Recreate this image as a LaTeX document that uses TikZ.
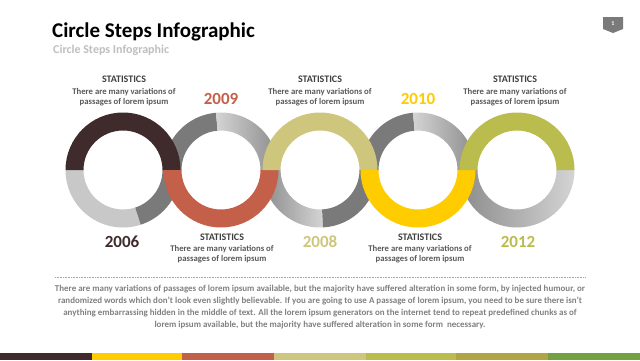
\documentclass[tikz,border=0pt]{standalone}
\usepackage{fontspec}
\setmainfont{Carlito}
\definecolor{cbrown}{HTML}{3F2B2B}
\definecolor{cred}{HTML}{C4604A}
\definecolor{ckhaki}{HTML}{CFC67E}
\definecolor{cyellow}{HTML}{FFCC00}
\definecolor{colive}{HTML}{BBBC4E}
\definecolor{cmustard}{HTML}{B0A444}
\definecolor{cgreen}{HTML}{72A042}
\definecolor{dgray}{HTML}{7A7A7A}
\definecolor{lgray}{HTML}{C8C8C8}
\definecolor{gradlight}{HTML}{D4D4D4}
\definecolor{graddark}{HTML}{8C8C8C}
\definecolor{headgray}{HTML}{404040}
\definecolor{linegray}{HTML}{595959}
\definecolor{paragray}{HTML}{808080}
\definecolor{subgray}{HTML}{BFBFBF}
\newcommand\ringseg[4]{%
  \path[#4] ([shift={(#2:57.5)}]#1,190) arc[start angle=#2,end angle=#3,radius=57.5]
    -- ([shift={(#3:39.5)}]#1,190) arc[start angle=#3,end angle=#2,radius=39.5] -- cycle;}
\tikzset{
  titletext/.style={anchor=base west,inner sep=0pt,font=\fontsize{21}{24}\selectfont\bfseries,text=black},
  subtext/.style={anchor=base west,inner sep=0pt,font=\fontsize{12}{14}\selectfont\bfseries,text=subgray},
  yeartext/.style={anchor=base,inner sep=0pt,font=\fontsize{17}{20}\selectfont\bfseries},
  stathead/.style={anchor=base,inner sep=0pt,font=\fontsize{10}{12}\selectfont\bfseries,text=headgray},
  statline/.style={anchor=base,inner sep=0pt,font=\fontsize{8.7}{10}\selectfont\bfseries,text=linegray},
  paraline/.style={anchor=base,inner sep=0pt,font=\fontsize{8.95}{10}\selectfont\bfseries,text=paragray}
}
\begin{document}
\begin{tikzpicture}[x=1pt,y=1pt]
\useasboundingbox (0,0) rectangle (640,360);
\fill[white] (0,0) rectangle (640,360);

% title
\node[titletext] (title) at (52,323) {Circle Steps Infographic};
\node[subtext] (subtitle) at (53,306.7) {Circle Steps Infographic};

% page badge
\fill[dgray] (603,343) -- (623,343) -- (623,331) -- (613,327) -- (603,331) -- cycle;
\node[inner sep=0pt,font=\fontsize{6}{7}\selectfont\bfseries,text=white] (pagenum) at (613,336) {1};

% gray ring parts
\ringseg{123}{180}{288}{fill=lgray}
\ringseg{123}{288}{360}{fill=dgray}
\ringseg{221}{95}{180}{fill=dgray}
\ringseg{221}{0}{95}{left color=gradlight,right color=graddark}
\ringseg{320}{180}{273}{left color=graddark,right color=gradlight}
\ringseg{320}{273}{360}{fill=dgray}
\ringseg{418}{95}{180}{fill=dgray}
\ringseg{418}{0}{95}{left color=gradlight,right color=graddark}
\ringseg{517}{180}{360}{left color=graddark,right color=gradlight}

% coloured ring halves
\ringseg{123}{0}{180}{fill=cbrown}
\ringseg{221}{180}{360}{fill=cred}
\ringseg{320}{0}{180}{fill=ckhaki}
\ringseg{418}{180}{360}{fill=cyellow}
\ringseg{517}{0}{180}{fill=colive}

% years
\node[yeartext,text=cred] (y2009) at (221,256) {2009};
\node[yeartext,text=cyellow] (y2010) at (418,256) {2010};
\node[yeartext,text=cbrown] (y2006) at (122,112.3) {2006};
\node[yeartext,text=ckhaki] (y2008) at (320,112.3) {2008};
\node[yeartext,text=colive] (y2012) at (518,112.3) {2012};

% statistics blocks
\foreach \cx/\by/\nm in {124/277.3/sa,320/277.3/sb,515/277.3/sc,222/119.7/sd,420/119.7/se}{
  \node[stathead] (\nm h) at (\cx,\by) {STATISTICS};
  \node[statline] (\nm a) at (\cx,\by-11.3) {There are many variations of};
  \node[statline] (\nm b) at (\cx,\by-21.3) {passages of lorem ipsum};
}

% separator
\draw[paragray!70,densely dotted,line width=0.6pt] (55,83) -- (585,83);

% paragraph
\node[paraline] (p1) at (320,69) {There are many variations of passages of lorem ipsum available, but the majority have suffered alteration in some form, by injected humour, or};
\node[paraline] (p2) at (320,57) {randomized words which don't look even slightly believable. If you are going to use A passage of lorem ipsum, you need to be sure there isn't};
\node[paraline] (p3) at (320,45) {anything embarrassing hidden in the middle of text. All the lorem ipsum generators on the internet tend to repeat predefined chunks as of};
\node[paraline] (p4) at (320,33) {lorem ipsum available, but the majority have suffered alteration in some form\ \ necessary.};

% bottom bar
\fill[cbrown] (0,0) rectangle (92,7.5);
\fill[cyellow] (92,0) rectangle (182,7.5);
\fill[cred] (182,0) rectangle (274,7.5);
\fill[ckhaki] (274,0) rectangle (366,7.5);
\fill[colive] (366,0) rectangle (456,7.5);
\fill[cmustard] (456,0) rectangle (548,7.5);
\fill[cgreen] (548,0) rectangle (640,7.5);
\end{tikzpicture}
\end{document}
